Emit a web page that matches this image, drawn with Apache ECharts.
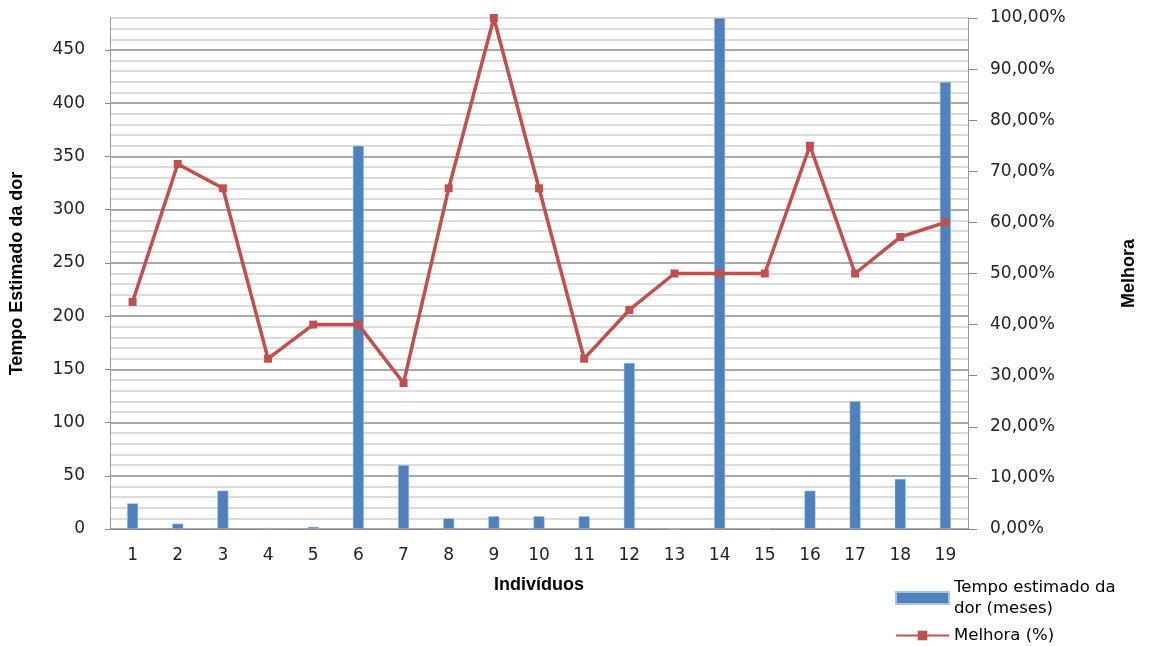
<!DOCTYPE html>
<html>
  <head>
    <meta charset="UTF-8">
    <title>Tempo estimado da dor x Melhora</title>
    <script src="https://cdn.jsdelivr.net/npm/echarts@6/dist/echarts.min.js"></script>
  </head>
  <body style="margin:0;background:#fff;">
    <div id="myChart" style="width:1150px;height:646px;"></div>
    <script type="text/javascript">
      var individuos = ['1','2','3','4','5','6','7','8','9','10','11','12','13','14','15','16','17','18','19'];
      var tempoDor = [24, 5, 36, 1, 2, 360, 60, 10, 12, 12, 12, 156, 0, 480, 0, 36, 120, 47, 420];
      var melhora = [44.44, 71.43, 66.67, 33.33, 40, 40, 28.57, 66.67, 100, 66.67, 33.33, 42.86, 50, 50, 50, 75, 50, 57.14, 60];

      var labelFont = 'DejaVu Sans';
      var nameFont = '"Liberation Sans Narrow", "Liberation Sans", sans-serif';
      var myChart = echarts.init(document.getElementById('myChart'));

      var option = {
        animation: false,
        backgroundColor: '#fff',
        grid: { left: 110, right: 182, top: 18, bottom: 117 },
        legend: {
          orient: 'vertical',
          left: 890,
          top: 572,
          itemWidth: 53,
          itemHeight: 12,
          itemGap: 6,
          textStyle: { fontFamily: labelFont, fontSize: 16.5, color: '#000', lineHeight: 21 },
          data: [{ name: 'Tempo estimado da\ndor (meses)', icon: 'rect' }, { name: 'Melhora (%)' }]
        },
        xAxis: {
          type: 'category',
          data: individuos,
          name: 'Indivíduos',
          nameLocation: 'middle',
          nameGap: 47,
          nameTextStyle: { fontFamily: nameFont, fontWeight: 'bold', fontSize: 18, color: '#000' },
          axisLine: { lineStyle: { color: '#888' } },
          axisTick: { show: false },
          axisLabel: { fontFamily: labelFont, fontSize: 17, color: '#222', margin: 18 }
        },
        yAxis: [{
          type: 'value',
          min: 0,
          max: 480,
          interval: 50,
          position: 'left',
          name: 'Tempo Estimado da dor',
          nameLocation: 'middle',
          nameGap: 84,
          nameTextStyle: { fontFamily: nameFont, fontWeight: 'bold', fontSize: 18, color: '#000' },
          axisLine: { show: true, lineStyle: { color: '#999' } },
          axisTick: { show: true, length: 5, lineStyle: { color: '#888' } },
          axisLabel: { fontFamily: labelFont, fontSize: 17, color: '#222', margin: 25, showMaxLabel: false },
          splitLine: { show: false }
        }, {
          // only for the grid lines every 10 units
          type: 'value',
          min: 0,
          max: 480,
          interval: 10,
          position: 'left',
          axisLine: { show: false },
          axisTick: { show: false },
          axisLabel: { show: false },
          splitLine: { show: true, lineStyle: { width: 1.5, color: ['#8c8c8c', '#d0d0d0', '#d0d0d0', '#d0d0d0', '#d0d0d0'] } }
        }, {
          type: 'value',
          min: 0,
          max: 100,
          interval: 10,
          position: 'right',
          name: 'Melhora',
          nameLocation: 'middle',
          nameGap: 152,
          nameRotate: 90,
          nameTextStyle: { fontFamily: nameFont, fontWeight: 'bold', fontSize: 18, color: '#000' },
          axisLine: { show: true, lineStyle: { color: '#999' } },
          axisTick: { show: true, length: 9, lineStyle: { color: '#888' } },
          axisLabel: {
            fontFamily: labelFont, fontSize: 17, color: '#222', margin: 22,
            formatter: function (v) { return v.toFixed(2).replace('.', ',') + '%'; }
          },
          splitLine: { show: false }
        }],
        series: [{
          name: 'Tempo estimado da\ndor (meses)',
          type: 'bar',
          yAxisIndex: 0,
          barWidth: 11,
          itemStyle: { color: '#4f81bd', borderColor: '#a9c4e6', borderWidth: 0.5 },
          data: tempoDor
        }, {
          name: 'Melhora (%)',
          type: 'line',
          yAxisIndex: 2,
          symbol: 'rect',
          symbolSize: 8,
          lineStyle: { color: '#c0504d', width: 3.5 },
          itemStyle: { color: '#c0504d' },
          data: melhora
        }]
      };
      myChart.setOption(option);
    </script>
  </body>
</html>
